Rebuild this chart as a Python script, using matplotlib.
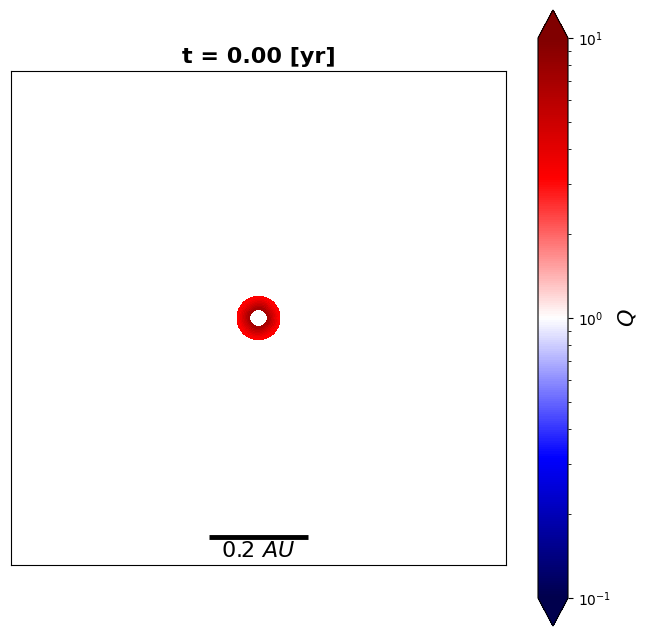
import numpy as np
import matplotlib
matplotlib.use("Agg")
import matplotlib.pyplot as plt
from matplotlib.colors import LogNorm

# Radial profile of the Toomre Q ring (AU)
r_edges = [0.0188, 0.0218, 0.0248, 0.0278, 0.0308, 0.0338, 0.0368, 0.0398, 0.0425]
q_values = [7.0, 6.2, 5.5, 4.9, 4.4, 3.9, 3.5, 3.2]
title = "t = 0.00 [yr]"
scale_len = 0.2
scale_label = "0.2 $AU$"

fig = plt.figure(figsize=(6.48, 6.36), dpi=100)
ax = fig.add_axes([11/648, 71/636, 495/648, 494/636])
cax = fig.add_axes([538/648, 10/636, 30/648, 616/636])

theta = np.linspace(0, 2*np.pi, 181)
R, T = np.meshgrid(np.array(r_edges), theta)
X = R*np.cos(T)
Y = R*np.sin(T)
C = np.tile(np.array(q_values), (len(theta)-1, 1))
norm = LogNorm(vmin=0.1, vmax=10)
pm = ax.pcolormesh(X, Y, C, cmap="seismic", norm=norm, shading="flat",
                   edgecolors="face", linewidth=0.3)

ax.set_xlim(-0.5, 0.5)
ax.set_ylim(-0.5, 0.5)
ax.set_aspect("equal")
ax.set_xticks([])
ax.set_yticks([])
ax.set_title(title, fontsize=16, fontweight="bold")

ax.plot([-scale_len/2, scale_len/2], [-0.443, -0.443], color="black", lw=3.5,
        solid_capstyle="butt")
ax.text(0, -0.472, scale_label, ha="center", va="center", fontsize=16)

cb = fig.colorbar(pm, cax=cax, extend="both")
cb.set_label("$Q$", fontsize=16)

fig.savefig("out.png", dpi=100)
